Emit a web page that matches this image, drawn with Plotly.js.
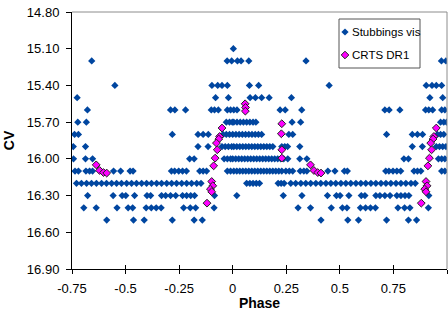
<!DOCTYPE html>
<html><head><meta charset="utf-8">
<script src="https://cdn.plot.ly/plotly-3.0.1.min.js"></script>
<style>html,body{margin:0;padding:0;background:#fff}#chart{width:448px;height:311px}</style>
</head><body><div id="chart"></div>
<script>
// Visual estimates (Stubbings): magnitude levels and phases (0..1) read at each level
const visMagLevels = [15.1, 15.2, 15.4, 15.5, 15.6, 15.7, 15.8, 15.9, 16.0, 16.1, 16.2, 16.3, 16.4, 16.5];
const visPhaseRows = [
  [0.003],
  [0.022, 0.039, 0.075, 0.342, 0.974, 0.995],
  [0.078, 0.121, 0.45, 0.903, 0.93, 0.95, 0.975],
  [0.081, 0.106, 0.135, 0.17, 0.274, 0.92, 0.98],
  [0.005, 0.02, 0.221, 0.245, 0.322, 0.71, 0.73, 0.78, 0.9, 0.915, 0.933, 0.975, 0.99],
  [0.005, 0.02, 0.035, 0.05, 0.065, 0.08, 0.095, 0.108, 0.277, 0.317, 0.97, 0.985, 0.998],
  [0.0, 0.015, 0.03, 0.045, 0.06, 0.075, 0.09, 0.105, 0.12, 0.135, 0.262, 0.28, 0.718, 0.838, 0.862, 0.886, 0.955, 0.97, 0.985],
  [0.005, 0.019, 0.033, 0.047, 0.061, 0.075, 0.089, 0.103, 0.117, 0.131, 0.145, 0.159, 0.173, 0.187, 0.229, 0.243, 0.256, 0.313, 0.838, 0.885, 0.95, 0.965, 0.98, 0.995],
  [0.0, 0.014, 0.028, 0.042, 0.056, 0.07, 0.084, 0.098, 0.112, 0.126, 0.14, 0.154, 0.168, 0.182, 0.196, 0.21, 0.224, 0.238, 0.257, 0.313, 0.346, 0.799, 0.82, 0.96, 0.975, 0.99],
  [0.005, 0.019, 0.033, 0.047, 0.061, 0.075, 0.089, 0.103, 0.117, 0.131, 0.145, 0.159, 0.173, 0.187, 0.201, 0.215, 0.229, 0.248, 0.264, 0.28, 0.315, 0.332, 0.346, 0.444, 0.477, 0.521, 0.535, 0.714, 0.729, 0.748, 0.766, 0.784, 0.846, 0.862, 0.878, 0.975, 0.99],
  [0.065, 0.08, 0.095, 0.11, 0.125, 0.212, 0.226, 0.24, 0.271, 0.294, 0.318, 0.341, 0.364, 0.388, 0.411, 0.435, 0.458, 0.481, 0.505, 0.528, 0.551, 0.575, 0.598, 0.621, 0.645, 0.668, 0.692, 0.715, 0.738, 0.762, 0.785, 0.808, 0.832, 0.852],
  [0.019, 0.236, 0.323, 0.442, 0.484, 0.501, 0.542, 0.6, 0.617, 0.668, 0.687, 0.71, 0.734, 0.766, 0.785, 0.804, 0.822, 0.915],
  [0.305, 0.363, 0.46, 0.512, 0.533, 0.596, 0.62, 0.643, 0.666, 0.771, 0.802, 0.827, 0.913],
  [0.412, 0.537, 0.587, 0.718, 0.82, 0.858]
];

// CRTS DR1 photometry: phase (0..1) and magnitude
const crtsPhase = [0.363, 0.379, 0.397, 0.412, 0.058, 0.06, 0.059, 0.229, 0.227, 0.229, 0.229,
                   0.95, 0.939, 0.935, 0.924, 0.928, 0.918, 0.911, 0.902, 0.907, 0.896, 0.902, 0.88];
const crtsMag   = [16.049, 16.095, 16.112, 16.116, 15.55, 15.58, 15.61, 15.713, 15.795, 15.926, 15.994,
                   15.748, 15.817, 15.838, 15.871, 15.926, 15.994, 16.057, 16.185, 16.22, 16.247, 16.269, 16.362];

const seriesNames = ["Stubbings vis", "CRTS DR1"];
const xTickVals = [-0.75, -0.5, -0.25, 0, 0.25, 0.5, 0.75, 1];
const xTickText = ["-0.75", "-0.5", "-0.25", "0", "0.25", "0.5", "0.75", "1"];
const yTickVals = [14.8, 15.1, 15.4, 15.7, 16.0, 16.3, 16.6, 16.9];
const yTickText = ["14.80", "15.10", "15.40", "15.70", "16.00", "16.30", "16.60", "16.90"];
const xRange = [-0.75, 1];
const yRange = [16.9, 14.8];

// Phase folding: each phase is drawn at p and, when in range, at p - 1
function fold(phases, mags) {
  const x = [], y = [];
  phases.forEach((p, i) => {
    x.push(p); y.push(mags[i]);
    if (p - 1 >= xRange[0]) { x.push(p - 1); y.push(mags[i]); }
  });
  return {x, y};
}

const visP = [], visM = [];
visPhaseRows.forEach((row, k) => row.forEach(p => { visP.push(p); visM.push(visMagLevels[k]); }));
const vis = fold(visP, visM);
const crts = fold(crtsPhase, crtsMag);

const BLUE = "rgb(0,70,160)";
const MAG = "#ff00ff";
const FONT = "Liberation Sans, Arial, sans-serif";

const traces = [
  {type: "scatter", mode: "markers", name: seriesNames[0], x: vis.x, y: vis.y,
   marker: {symbol: "diamond", size: 5.6, color: BLUE, line: {width: 0}}, showlegend: false, hoverinfo: "x+y"},
  {type: "scatter", mode: "markers", name: seriesNames[1], x: crts.x, y: crts.y,
   marker: {symbol: "diamond", size: 6, color: MAG, line: {width: 1, color: "#222"}}, showlegend: false, hoverinfo: "x+y"},
  {type: "scatter", x: [], y: [], xaxis: "x2", yaxis: "y", showlegend: false, hoverinfo: "skip"}
];

// layout geometry (pixels -> paper)
const W = 448, H = 311, ML = 72, MR = 1, MT = 12, MB = 42;
const PW = W - ML - MR, PH = H - MT - MB;
const px = v => (v - ML) / PW;
const py = v => 1 - (v - MT) / PH;

const diamond = r => `M0,${r} L${r},0 L0,${-r} L${-r},0 Z`;

const layout = {
  width: W, height: H,
  margin: {l: ML, r: MR, t: MT, b: MB, pad: 0},
  paper_bgcolor: "#fff", plot_bgcolor: "#fff",
  font: {family: FONT, size: 13, color: "#000"},
  showlegend: false,
  xaxis: {
    range: xRange, tickvals: xTickVals, ticktext: xTickText,
    showgrid: false, zeroline: false, showline: true, linecolor: "#000", linewidth: 1,
    ticks: "outside", ticklen: 4, tickcolor: "#000", tickwidth: 1,
    tickfont: {family: FONT, size: 13, color: "#000"}, ticklabelstandoff: 3,
    title: {text: "Phase", font: {family: FONT, size: 14, weight: 700, color: "#000"}, standoff: 6},
    fixedrange: true
  },
  xaxis2: {
    overlaying: "x", anchor: "y", range: xRange, tickvals: xTickVals,
    showticklabels: false, showgrid: false, zeroline: false, showline: false,
    ticks: "inside", ticklen: 4, tickcolor: "#000", tickwidth: 1, side: "bottom"
  },
  yaxis: {
    range: yRange, tickvals: yTickVals, ticktext: yTickText,
    showgrid: false, zeroline: false, showline: true, linecolor: "#000", linewidth: 1,
    ticks: "outside", ticklen: 5, tickcolor: "#000", tickwidth: 1,
    tickfont: {family: FONT, size: 13, color: "#000"}, ticklabelstandoff: 4,
    title: {text: "CV", font: {family: FONT, size: 14, weight: 700, color: "#000"}, standoff: 8},
    fixedrange: true
  },
  shapes: [
    {type: "line", xref: "paper", yref: "paper", x0: 0, x1: 1, y0: 1, y1: 1, line: {color: "#8c8c8c", width: 1}},
    {type: "line", xref: "paper", yref: "paper", x0: 1, x1: 1, y0: 0, y1: 1, line: {color: "#8c8c8c", width: 1}},
    {type: "rect", xref: "paper", yref: "paper", x0: px(339), x1: px(420), y0: py(68), y1: py(19),
     fillcolor: "#fff", line: {color: "#555", width: 1}, layer: "above"},
    {type: "path", xref: "paper", yref: "paper", xsizemode: "pixel", ysizemode: "pixel",
     xanchor: px(345), yanchor: py(32), path: diamond(3.6), fillcolor: BLUE, line: {width: 0}, layer: "above"},
    {type: "path", xref: "paper", yref: "paper", xsizemode: "pixel", ysizemode: "pixel",
     xanchor: px(345), yanchor: py(55), path: diamond(3.8), fillcolor: MAG, line: {color: "#222", width: 1}, layer: "above"}
  ],
  annotations: [
    {xref: "paper", yref: "paper", x: px(350), y: py(32), xanchor: "left", yanchor: "middle", showarrow: false,
     text: seriesNames[0], font: {family: FONT, size: 11.5, color: "#000"}},
    {xref: "paper", yref: "paper", x: px(350), y: py(55), xanchor: "left", yanchor: "middle", showarrow: false,
     text: seriesNames[1], font: {family: FONT, size: 11.5, color: "#000"}}
  ]
};

Plotly.newPlot("chart", traces, layout, {displayModeBar: false, staticPlot: true});
</script>
</body></html>
